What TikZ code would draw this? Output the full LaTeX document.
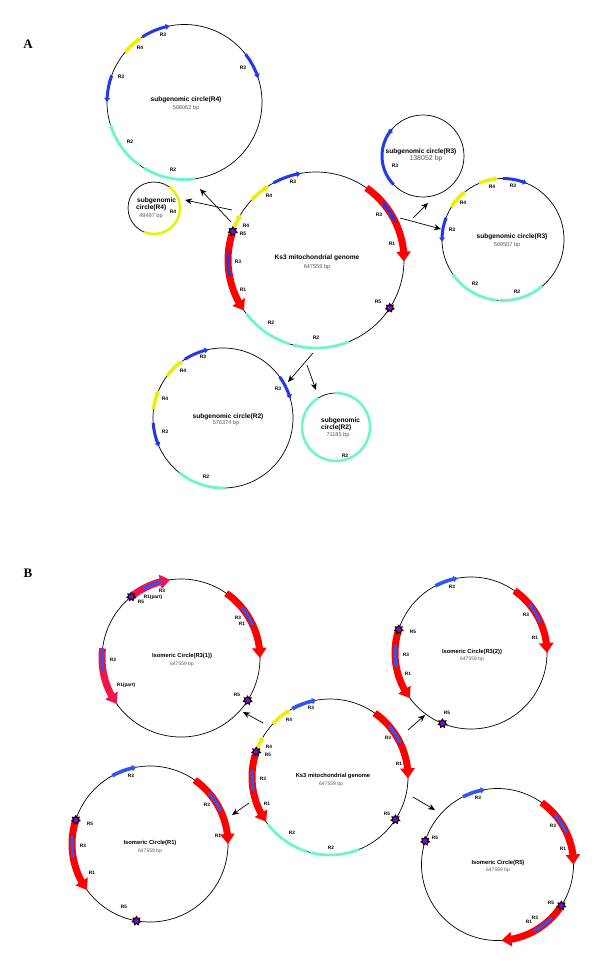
\documentclass[tikz,border=0pt]{standalone}
\usepackage{fontspec}
\setmainfont{Liberation Sans}
\newfontfamily\serifbf{Liberation Serif}
\usetikzlibrary{arrows.meta,bending,shapes.geometric}
\definecolor{cblue}{RGB}{35,55,240}
\definecolor{cblueb}{RGB}{50,85,240}
\definecolor{cyel}{RGB}{235,240,0}
\definecolor{ccya}{RGB}{110,245,205}
\definecolor{cred}{RGB}{255,0,0}
\definecolor{ccrim}{RGB}{240,20,75}
\definecolor{cpur}{RGB}{140,0,210}
\definecolor{cgray}{RGB}{90,90,90}
\newcounter{lc}
\newcommand{\garc}[5]{\draw[#5] ([shift={(#3:#2)}]#1) arc[start angle=#3, end angle=#4, radius=#2];}
\newcommand{\lab}[3][lab]{\stepcounter{lc}\node[#1] (L\arabic{lc}) at (#2) {#3};}
\newcommand{\rfive}[3]{\stepcounter{lc}\node[rmark] (M\arabic{lc}) at ([shift={(#2:#3)}]#1) {};\fill[cpur] (M\arabic{lc}.center) circle[radius=2.5];}
\tikzset{
  circ/.style={line width=0.7pt},
  blu/.style={draw=cblue, line width=3pt, -{Triangle[width=5.5pt,length=4pt]}},
  blub/.style={draw=cblueb, line width=3.6pt, -{Triangle[width=6pt,length=4.5pt]}},
  bluin/.style={draw=cblue, line width=3pt, -{Triangle[width=4pt,length=3pt]}},
  bluinb/.style={draw=cblueb, line width=3pt, -{Triangle[width=4pt,length=3pt]}},
  yel/.style={draw=cyel, line width=3.5pt, -{Triangle[width=6pt,length=4pt]}},
  cya/.style={draw=ccya, line width=2.8pt, -{Triangle[width=4.5pt,length=3pt]}},
  redar/.style={draw=cred, line width=7pt, -{Triangle[width=14pt,length=10pt]}},
  crimar/.style={draw=ccrim, line width=7pt, -{Triangle[width=14pt,length=10pt]}},
  conn/.style={line width=0.7pt, -{Stealth[length=7pt,width=6pt]}},
  lab/.style={font=\fontsize{5}{5}\selectfont\bfseries, inner sep=0pt},
  labb/.style={font=\fontsize{4.8}{4.8}\selectfont\bfseries, inner sep=0pt},
  ttl/.style={font=\fontsize{6.6}{6.6}\selectfont\bfseries, inner sep=0pt},
  ttlb/.style={font=\fontsize{5.8}{5.8}\selectfont\bfseries, inner sep=0pt},
  bp/.style={font=\fontsize{5.6}{5.6}\selectfont, text=cgray, inner sep=0pt},
  bpb/.style={font=\fontsize{5}{5}\selectfont, text=cgray, inner sep=0pt},
  rmark/.style={star, star points=7, star point ratio=1.6, fill=black, inner sep=0pt, minimum size=10.5pt},
  panel/.style={font=\serifbf\fontsize{13}{13}\selectfont\bfseries, inner sep=0pt}
}
\begin{document}
\begin{tikzpicture}[x=1pt,y=-1pt]
\useasboundingbox[fill=white] (0,0) rectangle (600,969);
\node[panel] (pA) at (28,44) {A};
\node[panel] (pB) at (28,573) {B};

% ================= PANEL A =================
% A1 subgenomic circle(R4) big
\coordinate (cA1) at (184.5,102);
\draw[circ] (cA1) circle[radius=77.5];
\garc{cA1}{77.5}{237}{259}{blu}
\garc{cA1}{77.5}{220}{236}{yel}
\garc{cA1}{77.5}{322}{342}{blu}
\garc{cA1}{77.5}{200}{180}{blu}
\garc{cA1}{77.5}{125}{163}{cya}
\garc{cA1}{77.5}{82}{122}{cya}
\lab{163,35}{R3}\lab{140,48}{R4}\lab{243,68}{R3}\lab{121,77}{R3}\lab{130,142}{R2}\lab{173,170}{R2}
\lab[ttl]{186,100}{subgenomic circle(R4)}
\lab[bp]{186,108}{598062 bp}

% A2 small subgenomic circle(R4)
\coordinate (cA2) at (154,208);
\draw[circ] (cA2) circle[radius=26];
\garc{cA2}{26}{306}{473}{draw=cyel, line width=2.5pt}
\node[ttl, anchor=west] (t2a) at (137,201) {subgenomic};
\node[ttl, anchor=west] (t2b) at (136,208) {circle(R4)};
\lab[bp]{151,216}{49497 bp}
\lab{173,212}{R4}

% A3 main genome
\coordinate (cA3) at (316,260);
\draw[circ] (cA3) circle[radius=88];
\garc{cA3}{88}{241}{260}{blu}
\garc{cA3}{88}{223}{237}{yel}
\garc{cA3}{88}{200}{211}{yel}
\garc{cA3}{88}{197}{145}{redar}
\garc{cA3}{88}{185}{169}{bluin}
\garc{cA3}{88}{305}{361}{redar}
\garc{cA3}{88}{319}{335}{bluin}
\garc{cA3}{88}{107}{143}{cya}
\garc{cA3}{88}{68}{105}{cya}
\rfive{cA3}{199}{88}
\rfive{cA3}{33}{88}
\lab{293,182}{R3}\lab{269,196}{R4}\lab{246,226}{R4}\lab{243,234}{R5}\lab{238,262}{R3}\lab{243,290}{R1}
\lab{379,215}{R3}\lab{392,244}{R1}\lab{378,302}{R5}\lab{271,323}{R2}\lab{316,338}{R2}
\lab[ttl]{317,258}{Ks3 mitochondrial genome}
\lab[bp]{317,267}{647559 bp}

% A4 small subgenomic circle(R3)
\coordinate (cA4) at (423,156);
\draw[circ] (cA4) circle[radius=41];
\garc{cA4}{41}{136}{222}{blu}
\lab[ttl]{421,152}{subgenomic circle(R3)}
\lab[{font=\fontsize{7}{7}\selectfont, text=cgray, inner sep=0pt}]{426,159}{138052 bp}
\lab{395,166}{R3}

% A5 subgenomic circle(R3) big
\coordinate (cA5) at (503,239.5);
\draw[circ] (cA5) circle[radius=61];
\garc{cA5}{61}{270}{293}{blu}
\garc{cA5}{61}{247}{265}{yel}
\garc{cA5}{61}{212}{232}{yel}
\garc{cA5}{61}{201}{178}{blu}
\garc{cA5}{61}{96}{146}{cya}
\garc{cA5}{61}{50}{94}{cya}
\lab{513,186}{R3}\lab{492,187}{R4}\lab{463,203}{R4}\lab{452,230}{R3}\lab{475,284}{R2}\lab{517,292}{R2}
\lab[ttl]{512,237}{subgenomic circle(R3)}
\lab[bp]{507,245}{509507 bp}

% A6 subgenomic circle(R2) big
\coordinate (cA6) at (223,418);
\draw[circ] (cA6) circle[radius=70];
\garc{cA6}{70}{237}{258}{blu}
\garc{cA6}{70}{217}{234.5}{yel}
\garc{cA6}{70}{187}{203}{yel}
\garc{cA6}{70}{176}{156}{blu}
\garc{cA6}{70}{324}{344}{blu}
\garc{cA6}{70}{88}{129}{cya}
\lab{203,357}{R3}\lab{183,371}{R4}\lab{165,399}{R4}\lab{165,432}{R3}\lab{278,389}{R3}\lab{206,477}{R2}
\lab[ttl]{228,417}{subgenomic circle(R2)}
\lab[bp]{226,423}{576374 bp}

% A7 small subgenomic circle(R2)
\coordinate (cA7) at (336,427);
\draw[circ] (cA7) circle[radius=34];
\garc{cA7}{34}{268}{599}{draw=ccya, line width=2.5pt}
\node[ttl, anchor=west] (t7a) at (321,421) {subgenomic};
\node[ttl, anchor=west] (t7b) at (321,428) {circle(R2)};
\lab[bp]{338,435}{71185 bp}
\lab{345,456}{R2}

% A connectors
\coordinate (k1s) at (231,222); \coordinate (k1e) at (200,189);
\coordinate (k2s) at (232,210); \coordinate (k2e) at (185,200);
\coordinate (k3s) at (413,218); \coordinate (k3e) at (428,203);
\coordinate (k4s) at (400,218); \coordinate (k4e) at (441,229);
\coordinate (k5s) at (313,353); \coordinate (k5e) at (288,382);
\coordinate (k6s) at (307,365); \coordinate (k6e) at (316,390);
\draw[conn] (k1s) -- (k1e);
\draw[conn] (k2s) -- (k2e);
\draw[conn] (k3s) -- (k3e);
\draw[conn] (k4s) -- (k4e);
\draw[conn] (k5s) -- (k5e);
\draw[conn] (k6s) -- (k6e);

% ================= PANEL B =================
% B main
\coordinate (cB0) at (330,777);
\draw[circ] (cB0) circle[radius=78];
\garc{cB0}{78}{241}{260}{blub}
\garc{cB0}{78}{223}{239}{yel}
\garc{cB0}{78}{200}{211}{yel}
\garc{cB0}{78}{197}{145}{redar}
\garc{cB0}{78}{185}{169}{bluinb}
\garc{cB0}{78}{305}{361}{redar}
\garc{cB0}{78}{319}{335}{bluinb}
\garc{cB0}{78}{107}{143}{cya}
\garc{cB0}{78}{68}{105}{cya}
\rfive{cB0}{199}{78}
\rfive{cB0}{33}{78}
\lab[labb]{311,708}{R3}\lab[labb]{289,720}{R4}\lab[labb]{269,747}{R4}\lab[labb]{268,755}{R5}\lab[labb]{263,779}{R3}\lab[labb]{267,804}{R1}
\lab[labb]{388,738}{R3}\lab[labb]{399,764}{R1}\lab[labb]{387,814}{R5}\lab[labb]{292,833}{R2}\lab[labb]{331,848}{R2}
\lab[ttlb]{333,776}{Ks3 mitochondrial genome}
\lab[bpb]{331,784}{647559 bp}

% B R3(1)
\coordinate (cB1) at (181,658);
\draw[circ] (cB1) circle[radius=79];
\garc{cB1}{79}{232}{262}{crimar}
\garc{cB1}{79}{242}{256.5}{bluinb}
\garc{cB1}{79}{305}{360}{redar}
\garc{cB1}{79}{320}{336}{bluinb}
\garc{cB1}{79}{187}{144.5}{crimar}
\garc{cB1}{79}{187}{170}{bluinb}
\rfive{cB1}{231}{79}
\rfive{cB1}{32.5}{79}
\lab[labb]{141,602}{R5}\lab[labb]{162,591}{R3}\lab[labb]{153,597}{R1(part)}
\lab[labb]{238,618}{R3}\lab[labb]{242,624}{R1}\lab[labb]{237,695}{R5}
\lab[labb]{113,660}{R3}\lab[labb]{126,685}{R1(part)}
\lab[ttlb]{182,656}{Isomeric Circle(R3(1))}
\lab[bpb]{182,664}{647559 bp}

% B R3(2)
\coordinate (cB2) at (471,653);
\draw[circ] (cB2) circle[radius=76];
\garc{cB2}{76}{242}{260}{blub}
\garc{cB2}{76}{305}{360}{redar}
\garc{cB2}{76}{320}{337}{bluinb}
\garc{cB2}{76}{197}{143.6}{redar}
\garc{cB2}{76}{186}{168.5}{bluinb}
\rfive{cB2}{198}{76}
\rfive{cB2}{112}{76}
\lab[labb]{452,587}{R3}\lab[labb]{526,615}{R3}\lab[labb]{535,638}{R1}\lab[labb]{413,632}{R5}
\lab[labb]{406,655}{R3}\lab[labb]{408,674}{R1}\lab[labb]{447,713}{R5}
\lab[ttlb]{472,652}{Isomeric Circle(R3(2))}
\lab[bpb]{472,659}{647559 bp}

% B R1
\coordinate (cB3) at (150,844);
\draw[circ] (cB3) circle[radius=78];
\garc{cB3}{78}{241}{260}{blub}
\garc{cB3}{78}{305}{360}{redar}
\garc{cB3}{78}{319}{336}{bluinb}
\garc{cB3}{78}{197}{144}{redar}
\garc{cB3}{78}{186}{169.6}{bluinb}
\rfive{cB3}{198}{78}
\rfive{cB3}{100}{78}
\lab[labb]{131,776}{R3}\lab[labb]{207,805}{R3}\lab[labb]{218,836}{R1}\lab[labb]{90,824}{R5}
\lab[labb]{83,846}{R3}\lab[labb]{92,873}{R1}\lab[labb]{124,907}{R5}
\lab[ttlb]{150,843}{Isomeric Circle(R1)}
\lab[bpb]{150,851}{647559 bp}

% B R5
\coordinate (cB4) at (497.5,864.5);
\draw[circ] (cB4) circle[radius=76];
\garc{cB4}{76}{243}{260.6}{blub}
\garc{cB4}{76}{305.5}{360}{redar}
\garc{cB4}{76}{319}{336}{bluinb}
\garc{cB4}{76}{35}{87}{redar}
\garc{cB4}{76}{44.5}{62.3}{bluinb}
\rfive{cB4}{198}{76}
\rfive{cB4}{32.8}{76}
\lab[labb]{478,798}{R3}\lab[labb]{553,826}{R3}\lab[labb]{563,849}{R1}\lab[labb]{435,838}{R5}
\lab[labb]{551,903}{R5}\lab[labb]{535,918}{R3}\lab[labb]{529,922}{R1}
\lab[ttlb]{498,863}{Isomeric Circle(R5)}
\lab[bpb]{498,870}{647559 bp}

% B connectors
\coordinate (q1s) at (263,723); \coordinate (q1e) at (243,712);
\coordinate (q2s) at (408,730); \coordinate (q2e) at (425,715);
\coordinate (q3s) at (249,803); \coordinate (q3e) at (232,815);
\coordinate (q4s) at (413,797); \coordinate (q4e) at (435,810);
\draw[conn] (q1s) -- (q1e);
\draw[conn] (q2s) -- (q2e);
\draw[conn] (q3s) -- (q3e);
\draw[conn] (q4s) -- (q4e);
\end{tikzpicture}
\end{document}
